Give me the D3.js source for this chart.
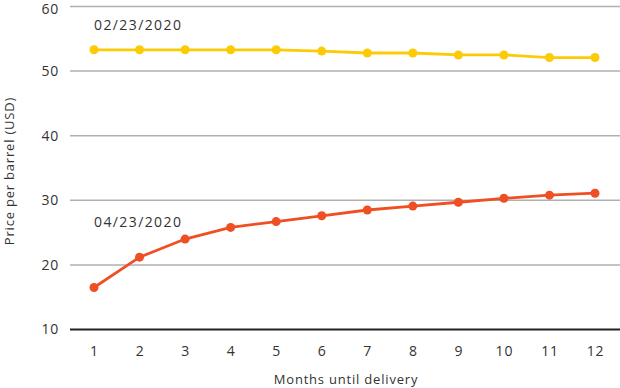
<!DOCTYPE html>
<html lang="en">
<head>
    <meta charset="UTF-8">
    <title>Oil futures curve</title>
    <script src="https://d3js.org/d3.v7.min.js"></script>
    <style>
        body {
            margin: 0;
            background: #fff;
            font-family: "Open Sans", Arial, sans-serif;
        }
        svg { display: block; }
        .grid line { stroke: #b0b0b0; stroke-width: 1.5px; }
        .tick-label { font-size: 14px; fill: #333; letter-spacing: 0.8px; }
        .axis-title { font-size: 13px; fill: #333; letter-spacing: 0.8px; }
        .series-label { font-size: 14px; fill: #333; letter-spacing: 1.4px; }
    </style>
</head>
<body>
    <svg id="chart"></svg>
    <script>
        // Data
        const months = [1, 2, 3, 4, 5, 6, 7, 8, 9, 10, 11, 12];
        const feb = [53.3, 53.3, 53.3, 53.3, 53.3, 53.1, 52.8, 52.8, 52.5, 52.5, 52.1, 52.1];
        const apr = [16.5, 21.2, 24.0, 25.8, 26.7, 27.6, 28.5, 29.1, 29.7, 30.3, 30.8, 31.1];
        const yTicks = [10, 20, 30, 40, 50, 60];
        const seriesNames = ["02/23/2020", "04/23/2020"];
        const seriesColors = ["#fccb05", "#f04e23"];

        const width = 620, height = 388;
        const svg = d3.select("#chart").attr("width", width).attr("height", height);

        const x = d3.scaleLinear().domain([1, 12]).range([94, 595]);
        const y = d3.scaleLinear().domain([10, 60]).range([329.5, 6.5]);
        const gridLeft = 70, gridRight = 620;

        // gridlines
        const grid = svg.append("g").attr("class", "grid");
        grid.selectAll("line")
            .data(yTicks.filter(d => d !== 10))
            .join("line")
            .attr("x1", gridLeft).attr("x2", gridRight)
            .attr("y1", d => y(d)).attr("y2", d => y(d));

        // baseline
        svg.append("line")
            .attr("x1", gridLeft).attr("x2", gridRight)
            .attr("y1", y(10)).attr("y2", y(10))
            .attr("stroke", "#222").attr("stroke-width", 2);

        // y tick labels (top one nudged down so it stays inside the frame)
        svg.append("g").selectAll("text")
            .data(yTicks)
            .join("text")
            .attr("class", "tick-label")
            .attr("x", 59)
            .attr("y", d => Math.max(y(d), 9.5))
            .attr("dy", "0.35em")
            .attr("text-anchor", "end")
            .text(d => d);

        // x tick labels
        svg.append("g").selectAll("text")
            .data(months)
            .join("text")
            .attr("class", "tick-label")
            .attr("x", d => x(d) + 0.5)
            .attr("y", 356)
            .attr("text-anchor", "middle")
            .text(d => d);

        // axis titles
        svg.append("text")
            .attr("class", "axis-title")
            .attr("transform", "translate(14,171) rotate(-90)")
            .attr("text-anchor", "middle")
            .text("Price per barrel (USD)");

        svg.append("text")
            .attr("class", "axis-title")
            .attr("x", 346).attr("y", 384)
            .attr("text-anchor", "middle")
            .text("Months until delivery");

        // series
        const series = [feb, apr];
        const line = d3.line()
            .x((d, i) => x(months[i]))
            .y(d => y(d));

        series.forEach((vals, k) => {
            const g = svg.append("g");
            g.append("path")
                .datum(vals)
                .attr("fill", "none")
                .attr("stroke", seriesColors[k])
                .attr("stroke-width", 2.8)
                .attr("d", line);
            g.selectAll("circle")
                .data(vals)
                .join("circle")
                .attr("cx", (d, i) => x(months[i]))
                .attr("cy", d => y(d))
                .attr("r", 4.5)
                .attr("fill", seriesColors[k]);
        });

        // series labels
        svg.append("text")
            .attr("class", "series-label")
            .attr("x", 94).attr("y", 30)
            .text(seriesNames[0]);
        svg.append("text")
            .attr("class", "series-label")
            .attr("x", 94).attr("y", 227)
            .text(seriesNames[1]);
    </script>
</body>
</html>
